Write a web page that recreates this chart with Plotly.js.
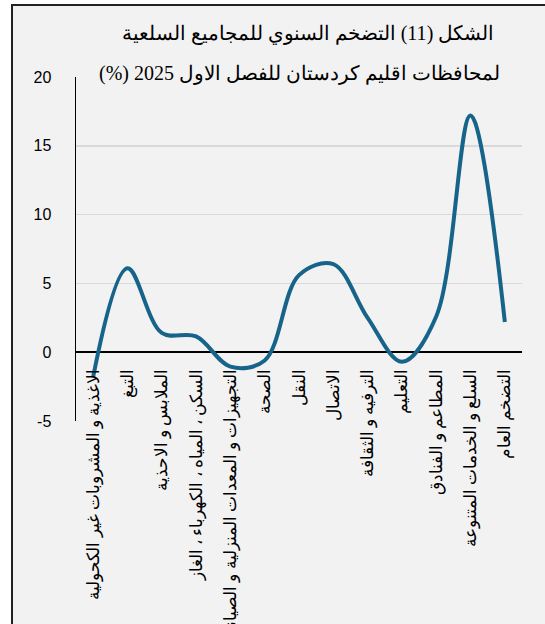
<!DOCTYPE html>
<html>
<head>
<meta charset="utf-8">
<script src="https://cdn.plot.ly/plotly-3.0.1.min.js"></script>
<style>
html, body { margin:0; padding:0; background:#ffffff; overflow:hidden; width:545px; height:624px; }
#frame { position:absolute; left:11px; top:4px; border:2px solid #222; background:#f2f2f2; width:560px; height:640px; }
#chart { width:560px; height:640px; }
</style>
</head>
<body>
<div id="frame"><div id="chart"></div></div>
<script>
var categories = [
  "الاغذية و المشروبات غير الكحولية",
  "التبغ",
  "الملابس و الاحذية",
  "السكن ، المياه ، الكهرباء ، الغاز",
  "التجهيزات و المعدات المنزلية و الصيانة",
  "الصحة",
  "النقل",
  "الاتصال",
  "الترفيه و الثقافة",
  "التعليم",
  "المطاعم و الفنادق",
  "السلع و الخدمات المتنوعة",
  "التضخم العام"
];
var inflation = [-1.8, 6.1, 1.4, 1.15, -1.05, -0.6, 5.6, 6.4, 2.5, -0.7, 2.6, 17.2, 2.2];
var yTicks = [-5, 0, 5, 10, 15, 20];

var titleLine1 = "\u202Bالشكل (11) التضخم السنوي للمجاميع السلعية\u202C";
var titleLine2 = "\u202Bلمحافظات اقليم كردستان للفصل الاول 2025 (%)\u202C";

var yMin = -5, yMax = 20;
var serif = 'Liberation Serif, Times New Roman, serif';

var trace = {
  x: categories,
  y: inflation,
  type: 'scatter',
  mode: 'lines',
  line: { color: '#17648a', width: 4, shape: 'spline', smoothing: 1 },
  hoverinfo: 'x+y'
};

var plotW = 446, plotH = 344;

var layout = {
  width: 560,
  height: 640,
  margin: { l: 63, r: 51, t: 71, b: 225 },
  paper_bgcolor: '#f2f2f2',
  plot_bgcolor: '#f2f2f2',
  showlegend: false,
  title: {
    text: titleLine1,
    font: { family: serif, size: 20, color: '#000', weight: 400 },
    xref: 'paper', x: 0.5 + 9 / plotW, xanchor: 'center',
    yref: 'container', y: 1 - 27 / 640, yanchor: 'middle'
  },
  annotations: [{
    text: titleLine2,
    xref: 'paper', x: 0.5, xanchor: 'center',
    yref: 'paper', y: 1 + 4 / plotH, yanchor: 'middle',
    showarrow: false,
    font: { family: serif, size: 20, color: '#000', weight: 400 }
  }],
  xaxis: {
    type: 'category',
    range: [-0.5, categories.length - 0.5],
    anchor: 'free',
    position: (0 - yMin) / (yMax - yMin),
    showline: false,
    showgrid: false,
    zeroline: false,
    ticks: '',
    tickangle: -90,
    ticklabelstandoff: 12,
    tickfont: { family: serif, size: 17, color: '#000' },
    fixedrange: true
  },
  yaxis: {
    range: [yMin, yMax],
    tickvals: yTicks,
    ticktext: yTicks.map(String),
    showline: true,
    linecolor: '#000',
    linewidth: 1.5,
    showgrid: true,
    gridcolor: '#d9d9d9',
    gridwidth: 1.5,
    zeroline: true,
    zerolinecolor: '#000',
    zerolinewidth: 1.5,
    ticks: '',
    ticklabelstandoff: 20,
    tickfont: { family: 'Liberation Sans, Arial, sans-serif', size: 16, color: '#000' },
    fixedrange: true
  }
};

Plotly.newPlot('chart', [trace], layout, { displayModeBar: false, staticPlot: true });
</script>
</body>
</html>
